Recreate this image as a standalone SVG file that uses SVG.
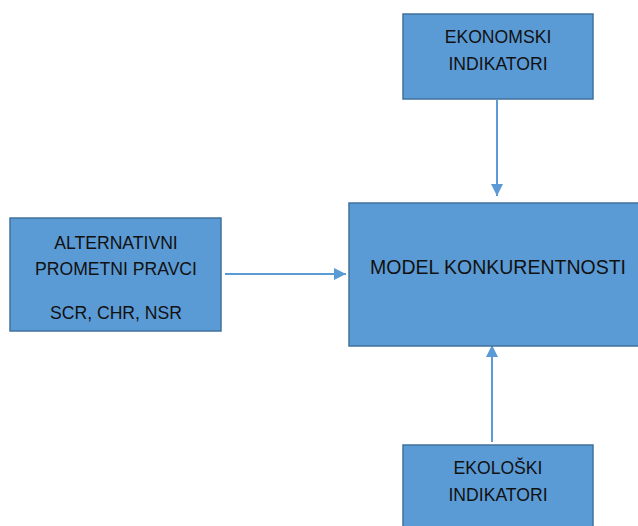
<svg xmlns="http://www.w3.org/2000/svg" width="638" height="526" viewBox="0 0 638 526">
<style>
.box{fill:#5B9BD5;stroke:#41719C;stroke-width:1.5}
.t{font-family:"Liberation Sans",Arial,sans-serif;font-size:17.6px;fill:#111;text-anchor:middle;dominant-baseline:central}
.big{font-size:19.5px}
.conn{stroke:#5B9BD5;stroke-width:2;fill:none}
</style>
<defs>
<marker id="ah" viewBox="0 0 10 10" refX="10" refY="5" markerWidth="6" markerHeight="6" orient="auto" markerUnits="strokeWidth">
<path d="M0,0 L10,5 L0,10 z" fill="#5B9BD5"/>
</marker>
</defs>
<rect width="638" height="526" fill="#fff"/>
<g id="connectors">
<line class="conn" x1="225" y1="274" x2="346" y2="274" marker-end="url(#ah)"/>
<line class="conn" x1="497" y1="100" x2="497" y2="196" marker-end="url(#ah)"/>
<line class="conn" x1="492" y1="442" x2="492" y2="345" marker-end="url(#ah)"/>
</g>
<g id="model">
<rect class="box" x="349" y="203" width="310" height="143"/>
<text class="t big" x="498" y="267">MODEL KONKURENTNOSTI</text>
</g>
<g id="alternativni">
<rect class="box" x="10" y="218" width="211" height="113"/>
<text class="t" x="116" y="243">ALTERNATIVNI</text>
<text class="t" x="116" y="269">PROMETNI PRAVCI</text>
<text class="t" x="116" y="313">SCR, CHR, NSR</text>
</g>
<g id="ekonomski">
<rect class="box" x="403" y="14" width="190" height="85"/>
<text class="t" x="498" y="37">EKONOMSKI</text>
<text class="t" x="498" y="64">INDIKATORI</text>
</g>
<g id="ekoloski">
<rect class="box" x="403" y="445" width="190" height="100"/>
<text class="t" x="498" y="468">EKOLOŠKI</text>
<text class="t" x="498" y="495">INDIKATORI</text>
</g>
</svg>
